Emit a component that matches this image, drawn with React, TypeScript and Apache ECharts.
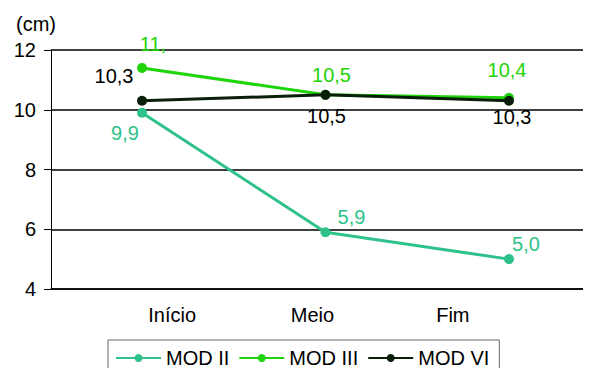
import React, { useEffect, useRef } from "react";
import * as echarts from "echarts";

const categories = ["Início", "Meio", "Fim"];
const seriesNames = ["MOD II", "MOD III", "MOD VI"];
const modII = [9.9, 5.9, 5.0];
const modIII = [11.4, 10.5, 10.4];
const modVI = [10.3, 10.5, 10.3];
const modIIILabels = ["11,", "10,5", "10,4"];
const yTicks = [4, 6, 8, 10, 12];

// Label offsets (px) from each point, per series
const modIIOffsets = [[-17, 20], [26, -15], [17, -15]];
const modIIIOffsets = [[11, -24], [6, -20], [-2, -28]];
const modVIOffsets = [[-28, -25], [1, 21], [3, 16]];

const FONT = "Liberation Sans, Arial, sans-serif";
const FS = 20;
const colors = ["#2ec28a", "#1fd40a", "#0a1f0a"];

const fmt = (v: number) => v.toFixed(1).replace(".", ",");

const buildData = (vals: number[], offsets: number[][], texts?: string[]) =>
  vals.map((v, i) => ({
    value: [i, v],
    label: {
      offset: offsets[i],
      formatter: texts ? texts[i] : fmt(v),
    },
  }));

export default function App() {
  const ref = useRef<HTMLDivElement>(null);

  useEffect(() => {
    if (!ref.current) return;
    const chart = echarts.init(ref.current, undefined, { renderer: "svg" });

    const makeSeries = (idx: number, vals: number[], offsets: number[][], texts?: string[]) => ({
      name: seriesNames[idx],
      type: "line",
      xAxisIndex: 0,
      yAxisIndex: 0,
      data: buildData(vals, offsets, texts),
      color: colors[idx],
      lineStyle: { width: 3 },
      symbol: "circle",
      symbolSize: 10,
      z: 2 + idx,
      label: {
        show: true,
        position: "inside",
        align: "center",
        verticalAlign: "middle",
        fontFamily: FONT,
        fontSize: FS,
        color: idx === 2 ? "#000" : colors[idx],
      },
    });

    chart.setOption({
      animation: false,
      title: {
        text: "(cm)",
        left: 11,
        top: 9,
        textStyle: { fontFamily: FONT, fontSize: FS, fontWeight: "normal", color: "#000" },
      },
      grid: [
        { left: 51, right: 0, top: 50, bottom: 87 },
        { left: 102, width: 421, top: 50, bottom: 87 },
      ],
      xAxis: [
        {
          type: "value",
          gridIndex: 0,
          min: -0.496,
          max: 2.447,
          axisLine: { show: true, onZero: false, lineStyle: { color: "#000", width: 1.5 } },
          axisTick: { show: false },
          splitLine: { show: false },
          axisLabel: { show: false },
        },
        {
          type: "category",
          gridIndex: 1,
          data: categories,
          boundaryGap: true,
          axisLine: { show: false },
          axisTick: { show: false },
          splitLine: { show: false },
          axisLabel: { fontFamily: FONT, fontSize: FS, color: "#000", margin: 16 },
        },
      ],
      yAxis: [
        {
          type: "value",
          gridIndex: 0,
          min: yTicks[0],
          max: yTicks[yTicks.length - 1],
          interval: 2,
          axisLine: { show: true, onZero: false, lineStyle: { color: "#000", width: 1 } },
          axisTick: { show: true, length: 7, lineStyle: { color: "#000" } },
          splitLine: { show: true, lineStyle: { color: "#000", width: 1.6 } },
          axisLabel: { fontFamily: FONT, fontSize: FS, color: "#000", margin: 15 },
        },
        {
          type: "value",
          gridIndex: 1,
          min: yTicks[0],
          max: yTicks[yTicks.length - 1],
          show: false,
        },
      ],
      legend: {
        left: 108,
        top: 340,
        data: seriesNames,
        itemWidth: 45,
        itemHeight: 10,
        itemGap: 9,
        borderColor: "#666",
        borderWidth: 1,
        padding: [8, 10, 20, 7],
        textStyle: { fontFamily: FONT, fontSize: FS, color: "#000" },
      },
      series: [
        makeSeries(0, modII, modIIOffsets),
        makeSeries(1, modIII, modIIIOffsets, modIIILabels),
        makeSeries(2, modVI, modVIOffsets),
      ],
    });

    return () => chart.dispose();
  }, []);

  return <div ref={ref} style={{ width: 591, height: 376, margin: -8 }} />;
}
